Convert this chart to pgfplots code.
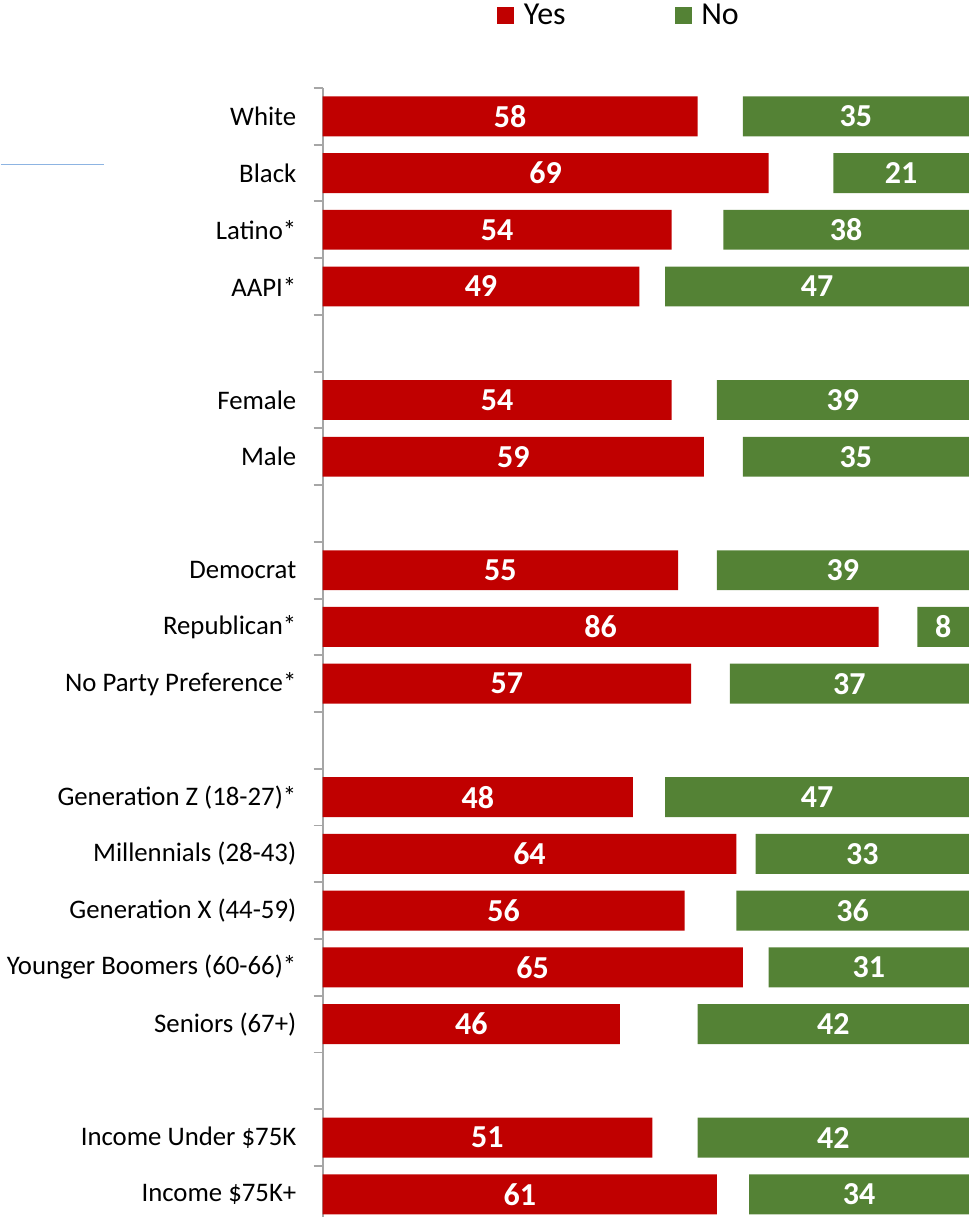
\documentclass[border=0pt]{standalone}
\usepackage{pgfplots}
\pgfplotsset{compat=1.18}
\usepackage{pgfplotstable}
\usepackage{fontspec}
\setmainfont{Carlito}
\definecolor{yescol}{HTML}{C00000}
\definecolor{nocol}{HTML}{548235}
\definecolor{axgray}{HTML}{A6A6A6}
\definecolor{lineblue}{HTML}{8DB4E2}
\pgfplotstableread{
pos yes no
0 58 35
1 69 21
2 54 38
3 49 47
5 54 39
6 59 35
8 55 39
9 86 8
10 57 37
12 48 47
13 64 33
14 56 36
15 65 31
16 46 42
18 51 42
19 61 34
}\data
\begin{document}
\begin{tikzpicture}
\begin{axis}[
  xbar stacked,
  x=3.235pt, y=28.4pt,
  y dir=reverse,
  xmin=0, xmax=100.77,
  ymin=-0.5, ymax=19.4,
  bar width=20pt,
  hide x axis,
  axis y line*=left,
  clip=false,
  ytick={0,1,2,3,5,6,8,9,10,12,13,14,15,16,18,19},
  yticklabels={White,Black,Latino*,AAPI*,Female,Male,Democrat,Republican*,No Party Preference*,Generation Z (18-27)*,Millennials (28-43),Generation X (44-59),Younger Boomers (60-66)*,Seniors (67+),Income Under \$75K,Income \$75K+},
  major tick length=0pt,
  minor ytick={-0.5,0.5,...,18.5},
  minor tick length=4.5pt,
  tick align=outside,
  y axis line style={axgray, line width=0.9pt},
  every tick/.style={axgray, line width=0.9pt},
  yticklabel style={font=\fontsize{13.4}{15}\selectfont, inner sep=0pt, xshift=-13pt},
  legend columns=2,
  legend style={draw=none, fill=none, font=\fontsize{16}{18}\selectfont, overlay,
    inner xsep=0pt, inner ysep=0pt, outer sep=0pt, nodes={inner sep=0pt},
    at={(rel axis cs:0.268,1)}, anchor=west, yshift=36.25pt,
    /tikz/every odd column/.append style={column sep=5pt},
    /tikz/every even column/.append style={column sep=54.5pt}},
  nodes near coords style={anchor=center, text=white, font=\bfseries\fontsize{16}{18}\selectfont,
    /pgf/number format/assume math mode=true},
]
\addplot[fill=yescol, draw=none, forget plot, nodes near coords, point meta=explicit]
  table[x=yes, y=pos, meta=yes]{\data};
\addplot[fill=none, draw=none, forget plot] table[x expr=100-\thisrow{yes}-\thisrow{no}, y=pos]{\data};
\addplot[fill=nocol, draw=none, forget plot, nodes near coords, point meta=explicit]
  table[x=no, y=pos, meta=no]{\data};
\addlegendimage{legend image code/.code={\fill[yescol] (0pt,-4pt) rectangle (8pt,4pt);}}
\addlegendentry{Yes}
\addlegendimage{legend image code/.code={\fill[nocol] (0pt,-4pt) rectangle (8pt,4pt);}}
\addlegendentry{No}
\draw[lineblue, line width=0.75pt] (axis cs:-49.8,0.85) -- (axis cs:-33.8,0.85);
\path (rel axis cs:0.5,1) -- ++(0pt,44pt);
\end{axis}
\end{tikzpicture}
\end{document}
